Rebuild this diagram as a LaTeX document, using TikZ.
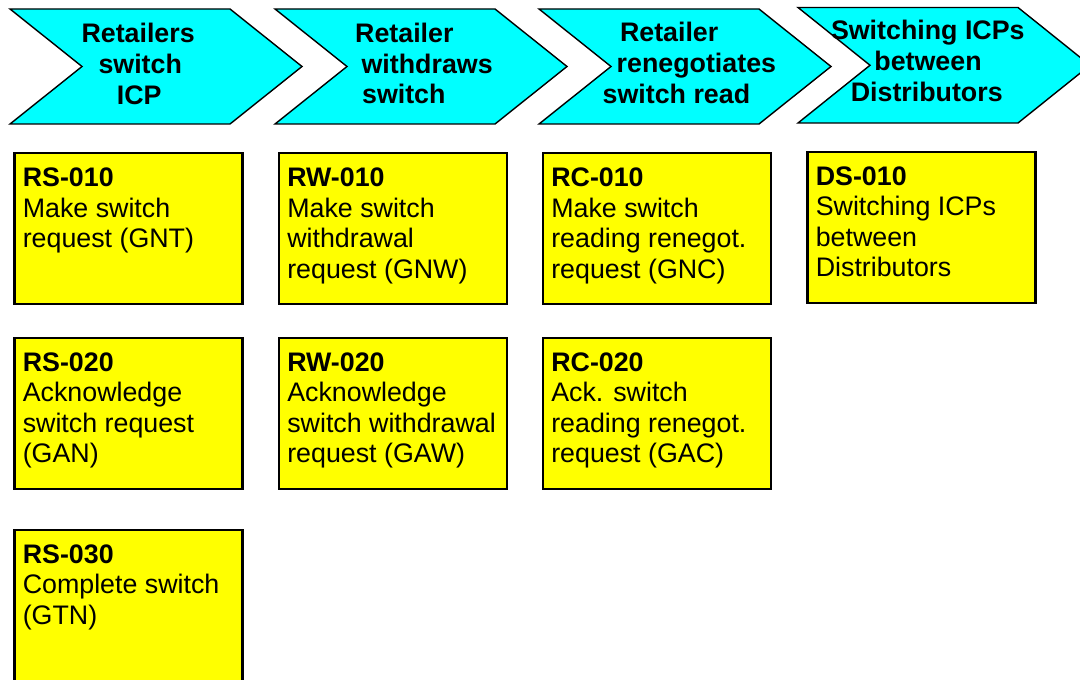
\documentclass[tikz,border=0pt]{standalone}
\usepackage{fontspec}
\setmainfont{Liberation Sans}
\definecolor{chevcyan}{HTML}{00FFFF}
\definecolor{boxyellow}{HTML}{FFFF00}
\tikzset{
  chevron/.style={draw=black, fill=chevcyan, line width=1.4bp, line join=miter},
  taskbox/.style={draw=black, fill=boxyellow, line width=2.2bp, rectangle, anchor=north west,
    minimum width=228bp, minimum height=151bp, inner sep=0pt, outer sep=0pt},
  chevtext/.style={anchor=base west, inner sep=0pt, outer sep=0pt,
    font=\fontsize{26.8bp}{30.8bp}\selectfont\bfseries},
  boxtext/.style={anchor=base west, inner sep=0pt, outer sep=0pt,
    font=\fontsize{26.8bp}{30.4bp}\selectfont},
}
\newcommand\chevronpath[3]{% left, top, bottom
  \path[chevron] (#1,#2) -- ++(220,0) -- (#1+292,{(#2+#3)/2}) -- (#1+220,#3) -- (#1,#3)
    -- (#1+72,{(#2+#3)/2}) -- cycle;}
\begin{document}
\begin{tikzpicture}[x=1bp,y=-1bp]
\useasboundingbox (0,0) rectangle (1080,680);
\clip (0,0) rectangle (1080,680);
% chevrons
\chevronpath{10}{9}{124}
\chevronpath{275}{9}{124}
\chevronpath{539}{9}{124}
\chevronpath{798}{7.5}{123}
\node[chevtext] (c1) at (81.5,42.7) {\parbox[t]{300bp}{\raggedright Retailers\\\hspace*{17bp}switch\\\hspace*{35.4bp}ICP}};
\node[chevtext] (c2) at (355.2,42.3) {\parbox[t]{300bp}{\raggedright Retailer\\\hspace*{6.4bp}withdraws\\\hspace*{6.9bp}switch}};
\node[chevtext] (c3) at (602.7,42) {\parbox[t]{300bp}{\raggedright \hspace*{17.3bp}Retailer\\\hspace*{14bp}renegotiates\\switch read}};
\node[chevtext] (c4) at (831,40) {\parbox[t]{300bp}{\raggedright Switching ICPs\\\hspace*{43.4bp}between\\\hspace*{19.8bp}Distributors}};
% boxes
\node[taskbox] (rs010) at (14.5,153.3) {};
\node[taskbox] (rw010) at (279,153.3) {};
\node[taskbox] (rc010) at (543,153.3) {};
\node[taskbox] (ds010) at (807.5,152) {};
\node[taskbox] (rs020) at (14.5,337.7) {};
\node[taskbox] (rw020) at (279,337.7) {};
\node[taskbox] (rc020) at (543,337.7) {};
\node[taskbox, minimum height=200bp] (rs030) at (14.5,530) {};
% box texts
\node[boxtext] (trs010) at ([xshift=8.3bp,yshift=-33.5bp]rs010.north west) {\parbox[t]{220bp}{\raggedright\textbf{RS-010}\\Make switch\\request (GNT)}};
\node[boxtext] (trw010) at ([xshift=8.3bp,yshift=-33.5bp]rw010.north west) {\parbox[t]{220bp}{\raggedright\textbf{RW-010}\\Make switch\\withdrawal\\request (GNW)}};
\node[boxtext] (trc010) at ([xshift=8.3bp,yshift=-33.5bp]rc010.north west) {\parbox[t]{220bp}{\raggedright\textbf{RC-010}\\Make switch\\reading renegot.\\request (GNC)}};
\node[boxtext] (tds010) at ([xshift=8.3bp,yshift=-33.5bp]ds010.north west) {\parbox[t]{220bp}{\raggedright\textbf{DS-010}\\Switching ICPs\\between\\Distributors}};
\node[boxtext] (trs020) at ([xshift=8.3bp,yshift=-33.5bp]rs020.north west) {\parbox[t]{220bp}{\raggedright\textbf{RS-020}\\Acknowledge\\switch request\\(GAN)}};
\node[boxtext] (trw020) at ([xshift=8.3bp,yshift=-33.5bp]rw020.north west) {\parbox[t]{220bp}{\raggedright\textbf{RW-020}\\Acknowledge\\switch withdrawal\\request (GAW)}};
\node[boxtext] (trc020) at ([xshift=8.3bp,yshift=-33.5bp]rc020.north west) {\parbox[t]{220bp}{\raggedright\textbf{RC-020}\\Ack. switch\\reading renegot.\\request (GAC)}};
\node[boxtext] (trs030) at ([xshift=8.3bp,yshift=-33.5bp]rs030.north west) {\parbox[t]{220bp}{\raggedright\textbf{RS-030}\\Complete switch\\(GTN)}};
\end{tikzpicture}
\end{document}
